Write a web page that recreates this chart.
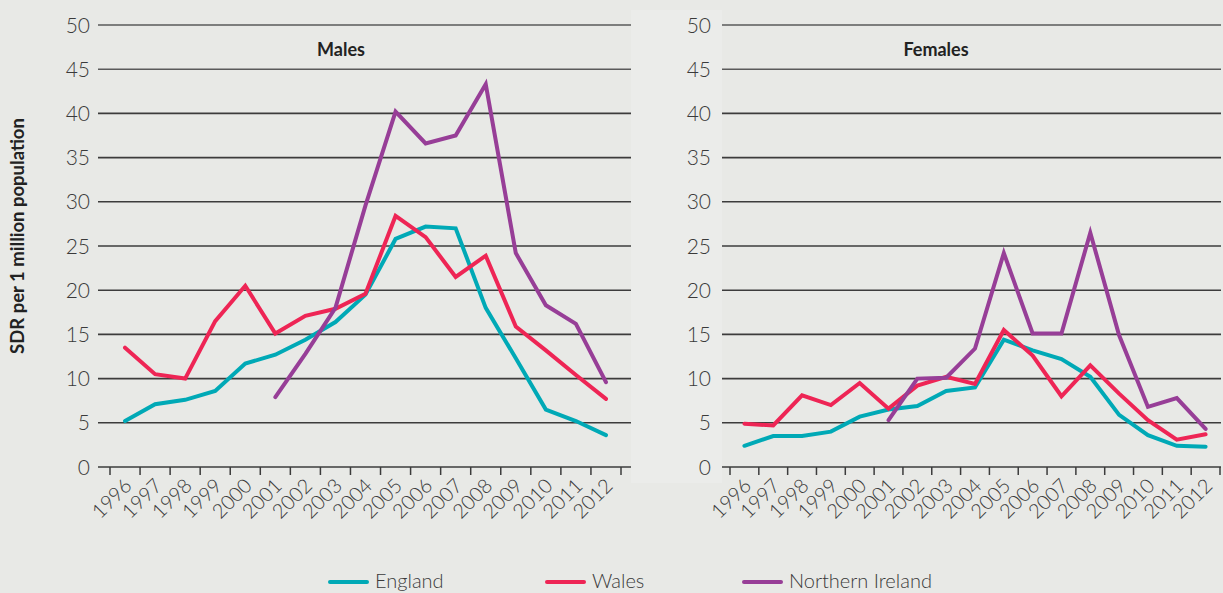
<!DOCTYPE html>
<html>
<head>
<meta charset="utf-8">
<script src="https://cdn.jsdelivr.net/npm/d3@7"></script>
<style>
  body { margin: 0; background: #e8e9e6; }
  svg { display: block; font-family: Lato, 'Open Sans', sans-serif; }
  .tick-label { font-weight: 300; fill: #3a3a3a; }
</style>
</head>
<body>
<div id="chart"></div>
<script>
const years = ['1996', '1997', '1998', '1999', '2000', '2001', '2002', '2003', '2004',
  '2005', '2006', '2007', '2008', '2009', '2010', '2011', '2012']

const malesEngland = [5.2, 7.1, 7.6, 8.6, 11.7, 12.7, 14.4, 16.4, 19.5, 25.8, 27.2, 27.0, 18.0, 12.3, 6.5, 5.2, 3.6]
const malesWales = [13.5, 10.5, 10.0, 16.5, 20.5, 15.1, 17.1, 17.9, 19.6, 28.4, 26.0, 21.5, 23.9, 15.9, 13.2, 10.4, 7.7]
const malesNI = [null, null, null, null, null, 7.9, 12.8, 18.0, 29.6, 40.2, 36.6, 37.5, 43.3, 24.2, 18.3, 16.2, 9.6]

const femalesEngland = [2.4, 3.5, 3.5, 4.0, 5.7, 6.5, 6.9, 8.6, 9.0, 14.4, 13.2, 12.2, 10.2, 5.9, 3.6, 2.4, 2.3]
const femalesWales = [4.9, 4.7, 8.1, 7.0, 9.5, 6.6, 9.2, 10.2, 9.4, 15.5, 12.6, 8.0, 11.5, 8.3, 5.3, 3.1, 3.7]
const femalesNI = [null, null, null, null, null, 5.3, 10.0, 10.1, 13.4, 24.2, 15.1, 15.1, 26.5, 14.9, 6.8, 7.8, 4.3]

const yTicks = [0, 5, 10, 15, 20, 25, 30, 35, 40, 45, 50]
const seriesNames = ['England', 'Wales', 'Northern Ireland']
const colors = ['#00a9b6', '#ee2555', '#973e97']

const width = 1223
const height = 593

const svg = d3
  .select('#chart')
  .append('svg')
  .attr('width', width)
  .attr('height', height)

// slightly lighter box behind the right-hand y labels
svg
  .append('rect')
  .attr('x', 631)
  .attr('y', 10)
  .attr('width', 91)
  .attr('height', 473)
  .attr('fill', '#ebecea')

const yPositionScale = d3
  .scaleLinear()
  .domain([0, 50])
  .range([467, 25])

function drawPanel(opts) {
  const xPositionScale = d3
    .scaleBand()
    .domain(years)
    .range([opts.bandStart, opts.bandEnd])

  const g = svg.append('g')

  // gridlines
  g.selectAll('.grid')
    .data(yTicks.filter(d => d > 0))
    .enter()
    .append('line')
    .attr('x1', opts.gridStart)
    .attr('x2', opts.gridEnd)
    .attr('y1', d => yPositionScale(d))
    .attr('y2', d => yPositionScale(d))
    .attr('stroke', d => (d >= 45 ? '#5a5a5a' : '#3c3c3c'))
    .attr('stroke-width', 1.6)

  // y labels
  g.selectAll('.ylab')
    .data(yTicks)
    .enter()
    .append('text')
    .attr('class', 'tick-label')
    .attr('x', opts.labelX)
    .attr('y', d => yPositionScale(d))
    .attr('dy', '0.36em')
    .attr('text-anchor', 'end')
    .attr('font-size', 21)
    .text(d => d)

  // x axis line and ticks
  g.append('line')
    .attr('x1', opts.gridStart)
    .attr('x2', opts.gridEnd)
    .attr('y1', yPositionScale(0))
    .attr('y2', yPositionScale(0))
    .attr('stroke', '#3c3c3c')
    .attr('stroke-width', 1.6)

  const edges = years.map(d => xPositionScale(d)).concat([opts.bandEnd])
  g.selectAll('.xtick')
    .data(edges)
    .enter()
    .append('line')
    .attr('x1', d => d)
    .attr('x2', d => d)
    .attr('y1', yPositionScale(0))
    .attr('y2', yPositionScale(0) + 8)
    .attr('stroke', '#3c3c3c')
    .attr('stroke-width', 1.5)

  g.selectAll('.xlab')
    .data(years)
    .enter()
    .append('text')
    .attr('class', 'tick-label')
    .attr('font-size', 20)
    .attr('text-anchor', 'end')
    .attr('transform', d => {
      const x = xPositionScale(d) + xPositionScale.bandwidth() / 2 + 8
      return 'translate(' + x + ',487) rotate(-45)'
    })
    .text(d => d)

  // title
  g.append('text')
    .attr('x', opts.titleX)
    .attr('y', 56)
    .attr('text-anchor', 'middle')
    .attr('font-size', 18)
    .attr('font-weight', 700)
    .attr('fill', '#222')
    .text(opts.title)

  const line = d3
    .line()
    .defined(d => d != null)
    .x((d, i) => xPositionScale(years[i]) + xPositionScale.bandwidth() / 2)
    .y(d => yPositionScale(d))

  opts.series.forEach((values, i) => {
    g.append('path')
      .datum(values)
      .attr('d', line)
      .attr('fill', 'none')
      .attr('stroke', colors[i])
      .attr('stroke-width', 4)
      .attr('stroke-linecap', 'round')
      .attr('stroke-linejoin', 'miter')
  })
}

drawPanel({
  bandStart: 110,
  bandEnd: 621,
  gridStart: 98,
  gridEnd: 631,
  labelX: 90,
  titleX: 341,
  title: 'Males',
  series: [malesEngland, malesWales, malesNI]
})

drawPanel({
  bandStart: 730,
  bandEnd: 1220,
  gridStart: 722,
  gridEnd: 1221,
  labelX: 711,
  titleX: 936,
  title: 'Females',
  series: [femalesEngland, femalesWales, femalesNI]
})

// y axis title
svg
  .append('text')
  .attr('transform', 'translate(24,236) rotate(-90)')
  .attr('text-anchor', 'middle')
  .attr('font-size', 18.5)
  .attr('font-weight', 700)
  .attr('fill', '#222')
  .text('SDR per 1 million population')

// legend
const legendX = [330, 547, 744]
const legend = svg
  .selectAll('.legend')
  .data(seriesNames)
  .enter()
  .append('g')
  .attr('transform', (d, i) => 'translate(' + legendX[i] + ',582)')

legend
  .append('line')
  .attr('x1', 0)
  .attr('x2', 37)
  .attr('stroke', (d, i) => colors[i])
  .attr('stroke-width', 4)
  .attr('stroke-linecap', 'round')

legend
  .append('text')
  .attr('x', 45)
  .attr('y', 6)
  .attr('font-size', 20)
  .attr('font-weight', 300)
  .attr('fill', '#3a3a3a')
  .text(d => d)
</script>
</body>
</html>
